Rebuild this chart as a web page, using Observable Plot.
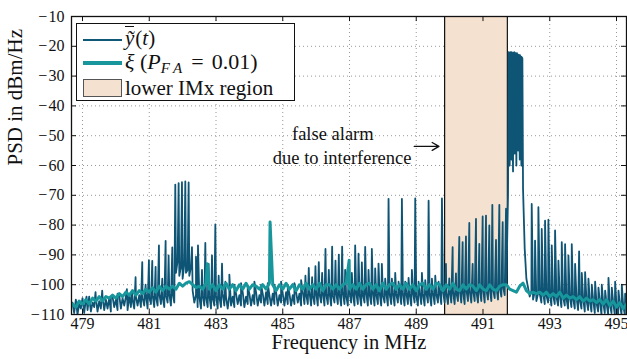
<!DOCTYPE html>
<html><head><meta charset="utf-8">
<script src="https://cdn.jsdelivr.net/npm/d3@7"></script>
<script src="https://cdn.jsdelivr.net/npm/@observablehq/plot@0.6"></script>
<style>
body{margin:0;background:#fff;}
#wrap{position:relative;width:627px;height:359px;font-family:"Liberation Serif",serif;color:#111;}
#legend{position:absolute;left:76px;top:23px;width:219px;height:78px;border:1.5px solid #111;background:#fff;box-sizing:border-box;font-size:21px;}
.samp{position:absolute;left:6px;width:39px;}
.txt{position:absolute;left:48px;white-space:nowrap;line-height:1;}
.ov{display:inline-block;border-top:1.3px solid #111;line-height:0.9;padding-top:2px;margin-right:1px;}
.sb{font-size:15px;position:relative;top:4px;letter-spacing:1px;line-height:0;}
.eq{margin:0 8px;}
</style>
</head><body>
<div id="wrap">
<div id="chart"></div>
<div id="legend">
  <div class="samp" style="top:15px;height:2px;background:#0f5878"></div>
  <div class="txt" style="top:2px"><span class="ov"><i>ỹ</i></span>(<i>t</i>)</div>
  <div class="samp" style="top:37px;height:3.5px;background:#17979c"></div>
  <div class="txt" style="top:27px;font-size:22px"><i>ξ</i>&nbsp;(<i>P</i><span class="sb"><i>F&#8202;A</i></span><span class="eq">=</span>0.01)</div>
  <div class="samp" style="top:55px;height:18px;background:#f5e1cf;border:1px solid #555;box-sizing:border-box"></div>
  <div class="txt" style="top:54px">lower IMx region</div>
</div>
</div>
<script>
// ---- data ----
const xTicks = [479, 481, 483, 485, 487, 489, 491, 493, 495];
const yTicks = [-110, -100, -90, -80, -70, -60, -50, -40, -30, -20, -10];
const xDomain = [478.67, 495.3];
const yDomain = [-110, -10];
const imxRegion = [489.85, 491.73];

// dark PSD floor, sampled every 0.05 MHz from 478.70 MHz
const darkStart = 478.70, darkStep = 0.05;
const darkFloor = [
 -106,-109.5,-105,-110,-106.5,-108,-104.5,-109.5,-105,-108.5,-104,-109,-106,-107.5,-104.5,-109,-105.5,-108,-104,-108.5,
 -105,-108,-104.5,-109,-104,-107.5,-105,-108.5,-103.5,-108,-104.5,-107,-104,-108.5,-103.5,-107.5,-105,-108,-104,-107,
 -103.5,-107.5,-104.5,-107,-103,-108,-104,-106.5,-103.5,-107.5,-104,-107,-103,-106.5,-104,-107.5,-103.5,-106,-103,-107,
 -103,-106,-96,-92,-97,-94,-98,-93,-96,-95,-97,-94,-102,-106,-103.5,-107.5,-104,-108,-103.5,-107,
 -104,-107.5,-103.5,-108,-104.5,-107,-103.5,-108,-104,-107.5,-103,-107,-104,-108,-103.5,-107,-104,-107.5,-103,-106.5,
 -103.5,-107,-102.5,-107.5,-104,-106.5,-103,-107,-103.5,-106.5,-102.5,-107,-103.5,-106,-103,-107,-102.5,-106.5,-103.5,-107,
 -103,-106.5,-102.5,-107,-103.5,-106,-103,-107,-102.5,-106.5,-103,-107,-103.5,-106.5,-102.5,-106,-103,-107,-102.5,-106.5,
 -103,-106.5,-102.5,-107,-103.5,-106.5,-102.5,-107,-103,-106,-102.5,-107,-103,-106.5,-102.5,-107,-103.5,-106,-102.5,-106.5,
 -103,-107,-102.5,-106.5,-103.5,-107,-102.5,-106,-103,-107,-102.5,-106.5,-103,-107,-103.5,-106,-102.5,-107,-103,-106.5,
 -102.5,-107,-103,-106.5,-102.5,-107,-103.5,-106,-102.5,-107,-103,-106.5,-102.5,-107,-103,-106,-102.5,-106.5,-103,-107,
 -102.5,-106.5,-103,-107,-102.5,-106,-103.5,-107,-102.5,-106.5,-103,-107,-102.5,-106,-103,-107,-102.5,-106.5,-103,-106,
 -102.5,-106.5,-102,-106,-102.5,-106.5,-101.5,-106,-102,-106.5,-102.5,-105.5,-101.5,-106,-102,-106.5,-101.5,-105.5,-102,-106,
 -101.5,-105.5,-102,-106,-101.5,-105.5,-101,-106,-101.5,-105,-101,-105.5,-101.5,-104.5,-100.5,-105,-101,-104,-100.5,-103.5,
 -100,-70,-60,-58,-62,-56,-60,-55,-58,-60,-68,-88,-98,-101,-104,-102,-105,-102.5,-105.5,-103,
 -103,-106,-102.5,-106.5,-103.5,-106,-103,-107,-103.5,-106.5,-104,-107,-103.5,-107.5,-104,-107,-104.5,-108,-104,-107.5,
 -104.5,-108,-104,-108.5,-105,-108,-104.5,-109,-105,-108.5,-105.5,-109,-105,-109.5,-106,-109,-105.5,-110,-106,-109.5,
 -106,-110,-106.5,-109.5,-106,-110,-107,-110,-106.5,-110,-107,-110,-107.5
];
// dark PSD spikes [MHz, dBm/Hz]
const darkSpikes = [
 [479.12,-104],[479.39,-102.5],[479.59,-102],[479.85,-104],[480.05,-103],[480.33,-101.5],[480.48,-102],
 [480.59,-97.5],[480.79,-92.4],[480.89,-100],[480.99,-91.8],[481.09,-92],[481.19,-94],[481.29,-86.8],
 [481.39,-98],[481.49,-85.3],[481.58,-90.2],[481.69,-87.5],
 [481.78,-66.4],[481.88,-65.9],[481.98,-65.6],[482.08,-65.3],[482.18,-65.7],
 [482.28,-87.4],[482.40,-90.6],[482.46,-86.8],[482.58,-95],[482.68,-86],[482.78,-93],[482.88,-90.2],
 [482.98,-79.8],[483.08,-97],[483.18,-92.9],[483.28,-99],[483.40,-96.6],[483.55,-100],[483.75,-99.5],
 [483.95,-100.5],[484.15,-99],[484.35,-100],[484.55,-99.5],[484.75,-100],[484.95,-99],[485.15,-100],
 [485.35,-99.5],[485.55,-98.5],[485.68,-97],[485.78,-94.4],[485.88,-97.5],[485.98,-93.8],[486.08,-92.4],
 [486.18,-96],[486.28,-88],[486.38,-95],[486.48,-87.2],[486.58,-91.9],[486.68,-89.9],[486.78,-87.2],
 [486.87,-95],[486.97,-97],[487.07,-96],[487.17,-86.8],[487.27,-89.6],[487.37,-92.5],[487.47,-87.3],
 [487.57,-95],[487.67,-88],[487.77,-94.5],[487.87,-92.9],[487.97,-93],[488.07,-98],[488.17,-71.2],
 [488.27,-98],[488.37,-96],[488.47,-99],[488.57,-71.2],[488.67,-99],[488.77,-97.7],[488.87,-95],
 [488.97,-71],[489.07,-99],[489.17,-96],[489.27,-98.5],[489.37,-71.8],[489.47,-98],[489.57,-97],
 [489.67,-99],[489.77,-71],
 [489.89,-93],[489.99,-97.9],[490.09,-87.4],[490.19,-96.2],[490.29,-84],[490.39,-85.7],[490.49,-83.8],
 [490.59,-79.3],[490.69,-93],[490.79,-77.9],[490.89,-86.3],[490.99,-77.1],[491.09,-76.8],[491.19,-80.1],
 [491.28,-73.2],[491.39,-85],[491.49,-73.2],[491.59,-79],[491.69,-74.5],
 [491.77,-22],[491.82,-22],[491.86,-22],[491.91,-22.2],[491.94,-22],[491.98,-22.3],[492.02,-22.3],
 [492.07,-22.8],[492.11,-23],[492.15,-23.5],[492.18,-24],
 [492.46,-72.9],[492.56,-85.2],[492.66,-74],[492.76,-81.3],[492.86,-78.5],[492.96,-78.2],[493.06,-86.8],
 [493.16,-81.8],[493.26,-91.9],[493.36,-85.7],[493.46,-86.4],[493.56,-90.2],[493.66,-86.4],[493.76,-93],
 [493.88,-88.8],[493.96,-96],[494.06,-95.8],[494.16,-98],[494.26,-100],[494.36,-99],[494.46,-101],
 [494.56,-100],[494.66,-102],[494.76,-97.7],[494.86,-101],[494.96,-99],[495.06,-102],[495.16,-100],[495.26,-103]
];

// threshold xi, sampled every 0.1 MHz from 478.7 MHz
const xiStart = 478.7, xiStep = 0.1;
const xiValues = [
 -106.5,-107.5,-105.5,-106.5,-105,-106.5,-104.5,-105.5,-104,-105.5,
 -104,-104.5,-103.5,-104.5,-103,-104,-102.5,-103.5,-102,-103.5,
 -102,-103,-101.5,-102.5,-101,-102.5,-100.5,-102,-100.5,-101.5,
 -100.5,-101.5,-99.5,-100.5,-99.5,-99,-100,-101,-100.5,-101.5,
 -99.5,-101.5,-100,-102,-100,-101.5,-99.5,-101.5,-100,-102,
 -100,-101.5,-99.5,-101.5,-100,-100.5,-101.5,-100,-101.5,-99.5,
 -100,-102,-100,-101.5,-99.5,-101.5,-100,-102,-100,-101.5,
 -99.5,-101.5,-100,-101.5,-99.5,-102,-100,-100,-101.5,-100,
 -101.5,-100,-99.5,-101.5,-100,-101.5,-99.5,-101.5,-100,-99.5,
 -101.5,-100,-102,-99.5,-101.5,-100,-99.5,-101.5,-100,-101.5,
 -99.5,-101.5,-100,-102,-100,-99.5,-101.5,-100,-101.5,-99.5,
 -100,-102,-100,-101.5,-99.5,-101.5,-102,-100,-101.5,-100,
 -100.5,-102,-100,-101.5,-102,-100,-101.5,-102,-100.5,-100,
 -100,-101.5,-102,-102.5,-100.5,-99.5,-102,-103,-102.5,-103,
 -102.5,-103.5,-102.5,-104,-103,-104,-102.5,-104.5,-103.5,-104.5,
 -104,-105,-104,-105.5,-104.5,-105.5,-105,-106,-105,-106.5,
 -105,-107,-105.5,-107.5,-106,-108,-106.5
];
const xiSpikes = [[482.74,-93],[484.62,-79],[486.99,-91.8]];

const annotText = [
  {f: 486.5, v: -49.3, text: "false alarm"},
  {f: 486.78, v: -57.5, text: "due to interference"}
];
const annotArrow = [{f1: 488.94, f2: 489.68, v: -53.6}];

// ---- build tables ----
function series(values, start, step, spikes) {
  const pts = values.map((v, i) => ({f: +(start + i * step).toFixed(3), v, k: 0}));
  spikes.forEach(([f, v]) => pts.push({f, v, k: 1}));
  pts.sort((a, b) => a.f - b.f || a.k - b.k);
  return pts;
}
const dark = series(darkFloor, darkStart, darkStep, darkSpikes);
const xi = series(xiValues, xiStart, xiStep, xiSpikes);

const DARK = "#0e5475", TEAL = "#17979c", PEACH = "#f5e1cf";
const tx = 0.15, ty = 1.7;

const chart = Plot.plot({
  width: 627, height: 359,
  marginLeft: 71, marginRight: 1, marginTop: 16, marginBottom: 45,
  style: {fontFamily: "Liberation Serif", fontSize: "16px", background: "white", color: "#111"},
  x: {domain: xDomain, ticks: xTicks, tickSize: 0, tickPadding: 3, label: null, tickFormat: d => String(d)},
  y: {domain: yDomain, ticks: yTicks, tickSize: 0, tickPadding: 7, label: null,
      tickFormat: d => (d < 0 ? "\u2212\u200A" : "") + Math.abs(d)},
  marks: [
    Plot.ruleX(xTicks, {stroke: "#999", strokeDasharray: "1,3", strokeWidth: 1}),
    Plot.ruleY(yTicks, {stroke: "#999", strokeDasharray: "1,3", strokeWidth: 1}),
    Plot.rect([imxRegion], {x1: d => d[0], x2: d => d[1], fill: PEACH}),
    Plot.ruleX(imxRegion, {stroke: "#111", strokeWidth: 1.2}),
    Plot.line(dark, {x: "f", y: "v", stroke: DARK, strokeWidth: 1.8, clip: true}),
    Plot.line(xi, {x: "f", y: "v", stroke: TEAL, strokeWidth: 3, clip: true}),
    Plot.ruleX(xTicks, {y1: yDomain[0], y2: yDomain[0] + ty, stroke: "#111"}),
    Plot.ruleX(xTicks, {y1: yDomain[1], y2: yDomain[1] - ty, stroke: "#111"}),
    Plot.ruleY(yTicks, {x1: xDomain[0], x2: xDomain[0] + tx, stroke: "#111"}),
    Plot.ruleY(yTicks, {x1: xDomain[1], x2: xDomain[1] - tx, stroke: "#111"}),
    Plot.frame({stroke: "#111", strokeWidth: 1.3}),
    Plot.text(annotText, {x: "f", y: "v", text: "text", fontSize: 18.5, fill: "#111"}),
    Plot.arrow(annotArrow, {x1: "f1", x2: "f2", y1: "v", y2: "v", stroke: "#111", strokeWidth: 1.3, headLength: 9}),
    Plot.text(["Frequency in MHz"], {frameAnchor: "bottom", dy: 34.5, text: d => d, fontSize: 20.5, fill: "#111"}),
    Plot.text(["PSD in dBm/Hz"], {frameAnchor: "left", dx: -56, rotate: -90, text: d => d, fontSize: 21, fill: "#111"})
  ]
});
document.getElementById("chart").appendChild(chart);
</script>
</body></html>
